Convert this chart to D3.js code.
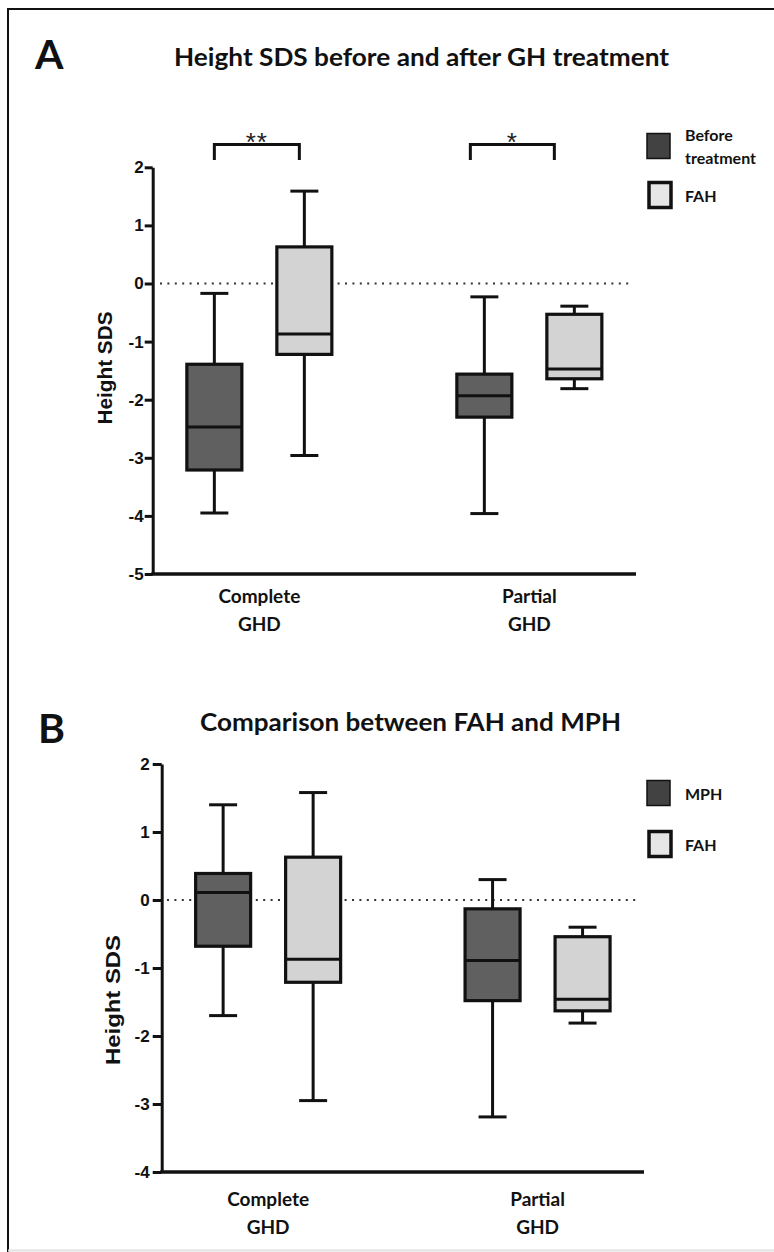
<!doctype html>
<html>
<head>
<meta charset="utf-8" />
<title>Height SDS box plots</title>
<script src="https://cdn.jsdelivr.net/npm/d3@7/dist/d3.min.js"></script>
<style>
  body { margin: 0; background: #fff; }
  .tick text { font-family: "Liberation Sans", Arial, sans-serif; font-weight: bold; font-size: 17px; fill: #111; }
  .cal { font-family: Lato, "Open Sans", sans-serif; font-weight: bold; fill: #111; }
</style>
</head>
<body>
<div id="chart"></div>
<script>
// ---- data ----
var categories = ["Complete", "Partial"];
var categoryLines = [["Complete", "GHD"], ["Partial", "GHD"]];

// [min, q1, median, q3, max] per category
var beforeTreatment = [[-3.95, -3.21, -2.47, -1.39, -0.17], [-3.96, -2.30, -1.93, -1.56, -0.23]];
var fahA = [[-2.96, -1.22, -0.87, 0.63, 1.59], [-1.81, -1.64, -1.47, -0.53, -0.39]];
var mph = [[-1.70, -0.68, 0.11, 0.39, 1.40], [-3.19, -1.48, -0.89, -0.13, 0.30]];
var fahB = [[-2.95, -1.21, -0.87, 0.63, 1.58], [-1.81, -1.63, -1.46, -0.54, -0.40]];

var ticksA = [2, 1, 0, -1, -2, -3, -4, -5];
var ticksB = [2, 1, 0, -1, -2, -3, -4];
var stars = ["**", "*"];

var svg = d3.select('#chart').append('svg')
    .attr('width', 774)
    .attr('height', 1252);

// frame
svg.append('path')
    .attr('d', 'M8,1252 L8,9 L780,9')
    .attr('fill', 'none')
    .attr('stroke', '#111')
    .attr('stroke-width', 2);
svg.append('line')
    .attr('x1', 8).attr('x2', 774).attr('y1', 1250.5).attr('y2', 1250.5)
    .attr('stroke', '#e2e2e2').attr('stroke-width', 2);

function drawPanel(p) {
    var g = svg.append('g');

    var x = d3.scalePoint().domain(categories).range(p.xRange).padding(0.395);
    var inner = d3.scalePoint().domain([0, 1]).range([-45, 45]);
    var y = d3.scaleLinear().domain(p.yDomain).range(p.yRange);
    var boxW = 55, capW = 28;

    // letter + title
    g.append('text').attr('class', 'cal')
        .attr('x', p.letterX).attr('y', p.letterY)
        .style('font-size', '41px')
        .text(p.letter);
    g.append('text').attr('class', 'cal')
        .attr('x', p.titleX).attr('y', p.titleY)
        .attr('textLength', p.titleLen).attr('lengthAdjust', 'spacingAndGlyphs')
        .style('font-size', '24px')
        .text(p.title);

    // zero reference line
    g.append('line')
        .attr('x1', p.dotX[0]).attr('x2', p.dotX[1])
        .attr('y1', y(0)).attr('y2', y(0))
        .attr('stroke', '#333').attr('stroke-width', 2)
        .attr('stroke-dasharray', '2,5.4');

    // y axis
    var ya = g.append('g')
        .attr('transform', 'translate(' + p.xRange[0] + ',0)')
        .call(d3.axisLeft(y).tickValues(p.ticks).tickFormat(function (d) { return String(d); })
            .tickSize(p.tickSize).tickSizeOuter(0).tickPadding(p.tickPad));
    ya.select('.domain').attr('stroke', '#111').attr('stroke-width', 3);
    ya.selectAll('.tick line').attr('stroke', '#111').attr('stroke-width', 3);

    // x axis line
    g.append('line')
        .attr('x1', p.xRange[0] - 1.5).attr('x2', p.xRange[1])
        .attr('y1', y(p.yDomain[0])).attr('y2', y(p.yDomain[0]))
        .attr('stroke', '#111').attr('stroke-width', 3.5);

    // y title
    g.append('text')
        .attr('transform', 'translate(' + p.yTitleX + ',' + p.yTitleY + ') rotate(-90)')
        .attr('text-anchor', 'middle')
        .attr('dominant-baseline', 'central')
        .attr('textLength', p.yTitleLen).attr('lengthAdjust', 'spacingAndGlyphs')
        .style('font-family', '"Liberation Sans", Arial, sans-serif')
        .style('font-weight', 'bold').style('font-size', '20px').style('fill', '#111')
        .text('Height SDS');

    // category labels
    categories.forEach(function (c, i) {
        categoryLines[i].forEach(function (line, j) {
            g.append('text').attr('class', 'cal')
                .attr('x', x(c)).attr('y', y(p.yDomain[0]) + p.labelDy + j * 28)
                .attr('text-anchor', 'middle').attr('dominant-baseline', 'central')
                .style('font-size', '19px')
                .text(line);
        });
    });

    // boxes
    p.series.forEach(function (s, si) {
        s.values.forEach(function (v, ci) {
            var cx = x(categories[ci]) + inner(si);
            var bg = g.append('g');
            bg.append('line')
                .attr('x1', cx).attr('x2', cx).attr('y1', y(v[0])).attr('y2', y(v[4]))
                .attr('stroke', '#111').attr('stroke-width', 3);
            [v[0], v[4]].forEach(function (w) {
                bg.append('line')
                    .attr('x1', cx - capW / 2).attr('x2', cx + capW / 2)
                    .attr('y1', y(w)).attr('y2', y(w))
                    .attr('stroke', '#111').attr('stroke-width', 3);
            });
            bg.append('rect')
                .attr('x', cx - boxW / 2).attr('width', boxW)
                .attr('y', y(v[3])).attr('height', y(v[1]) - y(v[3]))
                .attr('fill', s.fill).attr('stroke', '#111').attr('stroke-width', 3.2);
            bg.append('line')
                .attr('x1', cx - boxW / 2).attr('x2', cx + boxW / 2)
                .attr('y1', y(v[2])).attr('y2', y(v[2]))
                .attr('stroke', '#111').attr('stroke-width', 3);
        });
    });

    // significance brackets
    if (p.stars) {
        categories.forEach(function (c, i) {
            var x0 = x(c) + inner(0) + p.bracketNudge[i][0];
            var x1 = x(c) + inner(1) + p.bracketNudge[i][1];
            g.append('path')
                .attr('d', 'M' + x0 + ',160 L' + x0 + ',144.5 L' + x1 + ',144.5 L' + x1 + ',160')
                .attr('fill', 'none').attr('stroke', '#111').attr('stroke-width', 3);
            g.append('text')
                .attr('x', (x0 + x1) / 2).attr('y', 151)
                .attr('text-anchor', 'middle')
                .style('font-family', '"Liberation Sans", Arial, sans-serif')
                .style('font-size', '26px').style('letter-spacing', '1px')
                .style('fill', '#222')
                .text(p.stars[i]);
        });
    }

    // legend
    p.series.forEach(function (s, si) {
        var ly = p.legendY[si];
        g.append('rect')
            .attr('x', s.legendThin ? 647 : 649).attr('y', ly - 12.5)
            .attr('width', s.legendThin ? 23 : 22).attr('height', 25)
            .attr('fill', s.legendFill).attr('stroke', '#111')
            .attr('stroke-width', s.legendThin ? 1.5 : 3.5);
        s.legend.forEach(function (t, k) {
            g.append('text').attr('class', 'cal')
                .attr('x', 685).attr('y', ly + (k - (s.legend.length - 1) / 2) * 22.6)
                .attr('dominant-baseline', 'central')
                .style('font-size', '16px')
                .text(t);
        });
    });
}

drawPanel({
    letter: 'A', letterX: 35, letterY: 69,
    title: 'Height SDS before and after GH treatment', titleX: 174, titleY: 66, titleLen: 495,
    xRange: [152.7, 636], yDomain: [-5, 2], yRange: [574, 167.3],
    ticks: ticksA, tickSize: 8, tickPad: 1,
    dotX: [160, 631],
    yTitleX: 105, yTitleY: 368, yTitleLen: 113,
    labelDy: 21,
    series: [
        { values: beforeTreatment, fill: '#606060', legend: ['Before', 'treatment'], legendFill: '#424242', legendThin: true },
        { values: fahA, fill: '#d3d3d3', legend: ['FAH'], legendFill: '#e6e6e6', legendThin: false }
    ],
    legendY: [146, 195],
    stars: stars,
    bracketNudge: [[0, -5], [-14, -20]]
});

drawPanel({
    letter: 'B', letterX: 38, letterY: 743,
    title: 'Comparison between FAH and MPH', titleX: 200, titleY: 731, titleLen: 421,
    xRange: [161.7, 644], yDomain: [-4, 2], yRange: [1172, 764],
    ticks: ticksB, tickSize: 9, tickPad: 3,
    dotX: [167, 639],
    yTitleX: 113, yTitleY: 1000, yTitleLen: 130,
    labelDy: 26,
    series: [
        { values: mph, fill: '#606060', legend: ['MPH'], legendFill: '#424242', legendThin: true },
        { values: fahB, fill: '#d3d3d3', legend: ['FAH'], legendFill: '#e6e6e6', legendThin: false }
    ],
    legendY: [793, 844],
    stars: null
});
</script>
</body>
</html>
